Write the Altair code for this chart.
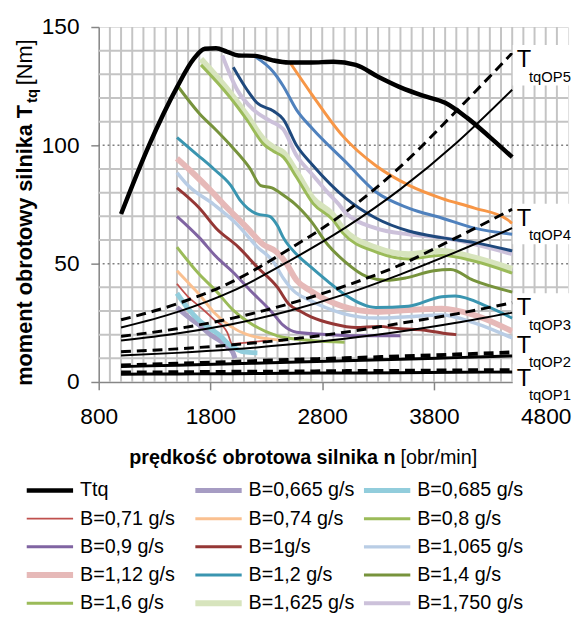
import altair as alt
import pandas as pd

FONT = "Liberation Sans"

X_TICKS = [800, 1800, 2800, 3800, 4800]
Y_TICKS = [0, 50, 100, 150]
X_GRID = list(range(900, 5000, 100))
Y_GRID_MINOR = [10, 20, 30, 40, 60, 70, 80, 90, 110, 120, 130, 140]
Y_GRID_MAJOR = [50, 100]

# ---- maximum torque curve
TTQ_RPM = [1000, 1250, 1500, 1650, 1750, 1850, 1950, 2050, 2200, 2350, 2500, 2700, 2900, 3100, 3300, 3500, 3700, 3900, 4100, 4300, 4500]
TTQ_VAL = [71, 100, 124.5, 136.5, 140.8, 141, 139.5, 138, 137.8, 136, 135, 135, 135.3, 134, 129, 124.5, 121, 118, 111.5, 103.5, 95]

# ---- constant fuel-flow curves (legend entries)
B0665_RPM = [1500, 1600, 1700, 1800, 1900, 1950, 2000, 2020]
B0665_VAL = [31.5, 27.5, 24, 20, 17, 15, 12.5, 10]
B0685_RPM = [1500, 1600, 1700, 1800, 1900, 1950, 2050, 2100, 2220]
B0685_VAL = [37.5, 31, 26, 22.5, 19, 16.5, 13.5, 12.7, 12.3]
B071_RPM = [1500, 1600, 1700, 1830, 1950, 1995, 2050, 2150, 2300]
B071_VAL = [41.5, 36, 32, 26.5, 21, 16, 16.3, 16.8, 17.5]
B074_RPM = [1500, 1600, 1700, 1830, 1980, 2130, 2360, 2450]
B074_VAL = [47, 42, 37, 29.5, 23.5, 20, 18, 17.5]
B08_RPM = [1500, 1700, 1850, 2000, 2150, 2400, 2700, 3000]
B08_VAL = [57, 45.5, 38.5, 30.5, 25, 19.5, 17.5, 16.8]
B09_RPM = [1500, 1700, 1850, 2000, 2150, 2350, 2450, 2570, 2860, 3200, 3500]
B09_VAL = [70, 61, 53, 46.5, 39, 29.5, 24, 21, 20, 19.5, 19.5]
B1_RPM = [1500, 1700, 1850, 2050, 2220, 2400, 2500, 2600, 2700, 2900, 3100, 3300, 3500, 3700, 3900, 4000]
B1_VAL = [82, 73.5, 65, 57, 48.5, 40, 33, 30, 27.5, 24.5, 23, 23.5, 22.5, 22, 20.5, 20]
B1065_RPM = [1500, 1600, 1830, 2040, 2220, 2360, 2450, 2540, 2690, 2980, 3280, 3570, 3870, 4160, 4500]
B1065_VAL = [88.5, 83, 75, 66.5, 57, 51, 44, 38.7, 34.5, 29, 27, 27.6, 28.3, 25, 18.6]
B112_RPM = [1500, 1650, 1800, 1920, 2130, 2275, 2390, 2480, 2570, 2690, 2980, 3280, 3570, 3870, 4160, 4500]
B112_VAL = [94.5, 88, 81, 75, 65, 58, 55, 50, 43, 38.7, 32, 29.7, 30.4, 31, 28.3, 21.4]
B12_RPM = [1500, 1690, 1830, 1980, 2070, 2216, 2330, 2400, 2452, 2570, 2700, 2850, 3000, 3280, 3570, 3870, 3990, 4280, 4500]
B12_VAL = [103.3, 95.7, 90, 83.2, 76.5, 71, 70, 66, 61, 54, 48.5, 42.5, 37, 31.5, 32, 36, 36.3, 31.8, 27]
B14_RPM = [1500, 1700, 1850, 2000, 2150, 2250, 2350, 2450, 2550, 2700, 2850, 3000, 3200, 3370, 3550, 3800, 3950, 4150, 4500]
B14_VAL = [125.5, 113.5, 106.5, 99, 90.5, 83, 82, 79, 75.5, 68, 58, 51, 44.5, 43, 44, 47, 47.5, 43, 38]
B16_RPM = [1715, 1980, 2130, 2275, 2363, 2452, 2570, 2717, 2895, 2983, 3278, 3573, 3868, 4163, 4500]
B16_VAL = [134, 120, 110.5, 100.5, 97.5, 95, 86.5, 75.5, 68.5, 63, 55, 52, 53.5, 51, 46]
B1625_RPM = [1715, 1980, 2130, 2275, 2363, 2452, 2570, 2717, 2895, 2983, 3278, 3573, 3868, 4163, 4500]
B1625_VAL = [136.5, 122, 112.4, 102.6, 99.2, 97, 88.8, 77.6, 70.7, 65, 56.8, 54, 55.4, 52.6, 47.8]
B175_RPM = [1906, 2039, 2186, 2334, 2452, 2570, 2717, 2850, 2950, 3000, 3278, 3573, 3868, 4500]
B175_VAL = [138, 123.5, 115, 110.3, 106.8, 95.7, 87.4, 80, 75, 72, 65, 62.4, 61, 54]

# ---- further curves (not in legend)
DB_RPM = [2004, 2127, 2216, 2363, 2452, 2570, 2717, 3012, 3278, 3573, 3868, 4163, 4500]
DB_VAL = [133, 123.5, 118, 114.5, 111, 100, 91.5, 77.6, 69.3, 63.8, 61, 58.9, 55.4]
BL_RPM = [2201, 2363, 2452, 2570, 2717, 3012, 3278, 3573, 3868, 4163, 4500]
BL_VAL = [137.4, 131, 125, 115, 106.8, 92.9, 80.4, 73.5, 69.3, 65, 62.4]
OR_RPM = [2511, 2700, 2983, 3278, 3573, 3868, 4163, 4457, 4500]
OR_VAL = [135, 122, 104, 91.5, 83.2, 77.6, 73.5, 68.6, 67]

# ---- operating-point torque lines
OP_RPM = [1000, 1500, 2000, 2500, 3000, 3500, 4000, 4500]
OP5_DASH = [26.3, 33, 42.5, 56, 71.5, 91, 114.5, 139]
OP5_SOLID = [23, 29.5, 38.5, 51, 65, 81.5, 101, 123.5]
OP4_DASH = [19.3, 22.5, 27, 33, 40.5, 49.5, 61, 73]
OP4_SOLID = [17.5, 20.5, 24.5, 30, 37, 45.5, 55, 65]
OP3_DASH = [12.8, 14, 15.7, 18, 21, 24.8, 28.8, 33.5]
OP3_SOLID = [11.2, 12.3, 13.8, 15.8, 18.3, 21.3, 25, 29.3]
OP2_DASH = [7, 7.7, 8.5, 9.3, 10, 10.8, 11.6, 12.5]
OP2_SOLID = [6.5, 7.1, 7.7, 8.3, 9, 9.6, 10.3, 11]
OP1_DASH = [4, 4.1, 4.3, 4.4, 4.6, 4.7, 4.9, 5]
OP1_SOLID = [3.3, 3.4, 3.5, 3.7, 3.8, 3.9, 4.1, 4.2]

OP_NAMES = ["OP5", "OP4", "OP3", "OP2", "OP1"]
OP_LABEL_T = [133.2, 66.1, 28.3, 12.4, -1.5]
LABEL_RPM = 4540

LEG_NAMES = ["Ttq", "B=0,665 g/s", "B=0,685 g/s", "B=0,71 g/s", "B=0,74 g/s", "B=0,8 g/s",
             "B=0,9 g/s", "B=1g/s", "B=1,065 g/s", "B=1,12 g/s", "B=1,2 g/s", "B=1,4 g/s",
             "B=1,6 g/s", "B=1,625 g/s", "B=1,750 g/s"]
LEG_COLORS = ["#000000", "#a69cc3", "#92cddc", "#c0504d", "#fac090", "#9bbb59",
              "#8064a2", "#953735", "#b9cde5", "#e6b9b8", "#3a95b0", "#77933c",
              "#9bbb59", "#d7e4bd", "#ccc1da"]
LEG_WIDTHS = [4.5, 5, 5, 1.8, 3, 3, 3, 3, 3.5, 6, 3, 3, 3, 6, 4]

B_SERIES = [
    ("B=0,665 g/s", B0665_RPM, B0665_VAL), ("B=0,685 g/s", B0685_RPM, B0685_VAL),
    ("B=1,12 g/s", B112_RPM, B112_VAL), ("B=1,625 g/s", B1625_RPM, B1625_VAL),
    ("B=1,750 g/s", B175_RPM, B175_VAL), ("B=1,065 g/s", B1065_RPM, B1065_VAL),
    ("B=0,71 g/s", B071_RPM, B071_VAL), ("B=0,74 g/s", B074_RPM, B074_VAL),
    ("B=0,8 g/s", B08_RPM, B08_VAL), ("B=0,9 g/s", B09_RPM, B09_VAL),
    ("B=1g/s", B1_RPM, B1_VAL), ("B=1,2 g/s", B12_RPM, B12_VAL),
    ("B=1,4 g/s", B14_RPM, B14_VAL), ("B=1,6 g/s", B16_RPM, B16_VAL),
]
EXTRA_SERIES = [("#1f497d", DB_RPM, DB_VAL), ("#4f81bd", BL_RPM, BL_VAL), ("#f79646", OR_RPM, OR_VAL)]


def long_df(series, key="series"):
    rows = []
    for i, (name, rpm, val) in enumerate(series):
        for r, v in zip(rpm, val):
            rows.append({key: name, "rpm": r, "T": v, "ord": i})
    return pd.DataFrame(rows)


df_b = long_df(B_SERIES)
df_ttq = long_df([("Ttq", TTQ_RPM, TTQ_VAL)])
df_extra = long_df(EXTRA_SERIES, key="col")
df_dash_hi = long_df([(n, OP_RPM, v) for n, v in zip(OP_NAMES[:3], [OP5_DASH, OP4_DASH, OP3_DASH])])
df_dash_lo = long_df([(n, OP_RPM, v) for n, v in zip(OP_NAMES[3:], [OP2_DASH, OP1_DASH])])
df_solid_hi = long_df([(n, OP_RPM, v) for n, v in zip(OP_NAMES[:3], [OP5_SOLID, OP4_SOLID, OP3_SOLID])])
df_solid_lo = long_df([(n, OP_RPM, v) for n, v in zip(OP_NAMES[3:], [OP2_SOLID, OP1_SOLID])])
df_lab = pd.DataFrame({"op": OP_NAMES, "T": OP_LABEL_T, "rpm": [LABEL_RPM] * 5,
                       "sub": ["tq" + n for n in OP_NAMES]})
df_lab["top"] = df_lab["T"] + 9.2
df_lab["bot"] = df_lab["T"] - 7.9
df_lab["x1"] = 4505
df_lab["x2"] = 5030

XS = alt.Scale(domain=[800, 5000], nice=False, zero=False)
YS = alt.Scale(domain=[0, 150], nice=False)
XA = alt.Axis(values=X_TICKS, format="d", title=None, grid=False,
              tickSize=8, tickColor="#868686", tickWidth=1.5,
              domainColor="#868686", domainWidth=1.5,
              labelFont=FONT, labelFontSize=23, labelColor="black",
              labelPadding=16, labelFlush=False)
YA = alt.Axis(values=Y_TICKS, format="d", title=None, grid=False,
              tickSize=8, tickColor="#868686", tickWidth=1.5,
              domainColor="#868686", domainWidth=1.5,
              labelFont=FONT, labelFontSize=23, labelColor="black",
              labelPadding=12, labelFlush=False)


def X(f):
    return alt.X(f, type="quantitative", scale=XS, axis=XA)


def Y(f):
    return alt.Y(f, type="quantitative", scale=YS, axis=YA)


leg = alt.Legend(title=None, orient="none", legendX=-76, legendY=456, columns=3, direction="horizontal",
                 gridAlign="all", columnPadding=6, rowPadding=0.6, clipHeight=28,
                 symbolType="stroke", symbolSize=2209, labelFont=FONT, labelFontSize=20,
                 labelColor="black", labelOffset=4, padding=0, labelLimit=300)
color_enc = alt.Color("series:N", scale=alt.Scale(domain=LEG_NAMES, range=LEG_COLORS), legend=leg)
width_enc = alt.StrokeWidth("series:N", scale=alt.Scale(type="ordinal", domain=LEG_NAMES, range=LEG_WIDTHS), legend=leg)

grid_v = alt.Chart(pd.DataFrame({"rpm": X_GRID})).mark_rule(color="#c4c4c4", strokeWidth=2).encode(x=X("rpm"))
grid_h = alt.Chart(pd.DataFrame({"T": Y_GRID_MINOR})).mark_rule(color="#c4c4c4", strokeWidth=2).encode(y=Y("T"))
grid_m = alt.Chart(pd.DataFrame({"T": Y_GRID_MAJOR})).mark_rule(color="#7f7f7f", strokeWidth=1.5,
                                                                 strokeDash=[2, 3]).encode(y=Y("T"))

b_layer = alt.Chart(df_b).mark_line(interpolate="monotone").encode(
    x=X("rpm"), y=Y("T"), color=color_enc, strokeWidth=width_enc, order="ord:Q")
extra_layer = alt.Chart(df_extra).mark_line(interpolate="monotone", strokeWidth=3).encode(
    x=X("rpm"), y=Y("T"), stroke=alt.Stroke("col:N", scale=None), detail="col:N")


def op_line(df, width, dash=None):
    kw = {"strokeDash": dash} if dash else {}
    return alt.Chart(df).mark_line(interpolate="monotone", color="black", strokeWidth=width, **kw).encode(
        x=X("rpm"), y=Y("T"), detail="series:N")


op_layers = [op_line(df_solid_hi, 2), op_line(df_solid_lo, 3),
             op_line(df_dash_hi, 3, [10, 6]), op_line(df_dash_lo, 4, [10, 6])]
ttq_layer = alt.Chart(df_ttq).mark_line(interpolate="monotone").encode(
    x=X("rpm"), y=Y("T"), color=color_enc, strokeWidth=width_enc)

boxes = alt.Chart(df_lab).mark_rect(color="white").encode(x=X("x1"), x2="x2", y=Y("top"), y2="bot")
lab_T = alt.Chart(df_lab).mark_text(text="T", align="left", baseline="alphabetic", font=FONT,
                                     fontSize=24, color="black").encode(x=X("rpm"), y=Y("T"))
lab_sub = alt.Chart(df_lab).mark_text(align="left", baseline="alphabetic", font=FONT, fontSize=15,
                                       color="black", dx=12.5, dy=15).encode(x=X("rpm"), y=Y("T"), text="sub:N")


def label(txt, x, y, **kw):
    return alt.Chart(pd.DataFrame({"t": [txt]})).mark_text(color="black", font=FONT, **kw).encode(
        text="t:N", x=alt.value(x), y=alt.value(y))


xt1 = label("prędkość obrotowa silnika n", 301, 443, align="right", baseline="alphabetic",
            fontSize=20, fontWeight="bold")
xt2 = label("[obr/min]", 306, 443, align="left", baseline="alphabetic", fontSize=20)
yt1 = label("moment obrotowy silnika T", -68, 79, align="right", baseline="alphabetic", angle=270,
            fontSize=22, fontWeight="bold")
yt2 = label("tq", -63, 77, align="left", baseline="alphabetic", angle=270, fontSize=15, fontWeight="bold")
yt3 = label("[Nm]", -68, 59, align="left", baseline="alphabetic", angle=270, fontSize=22)

chart = alt.layer(grid_v, grid_h, grid_m, b_layer, extra_layer, *op_layers, ttq_layer,
                  boxes, lab_T, lab_sub, xt1, xt2, yt1, yt2, yt3).properties(
    width=476, height=360, autosize="none",
    padding={"left": 92, "top": 15, "right": 5, "bottom": 230},
).configure_view(stroke="black", strokeWidth=2).configure(background="white")

chart.save("out.html", embed_options={"renderer": "svg", "actions": False})
